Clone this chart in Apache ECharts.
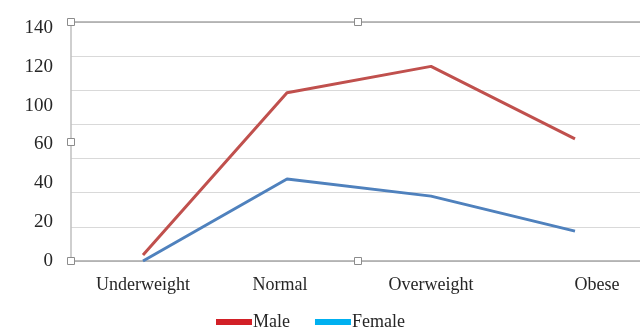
<!DOCTYPE html>
<html>
<head>
<meta charset="utf-8">
<script src="https://cdn.jsdelivr.net/npm/echarts@6/dist/echarts.min.js"></script>
<style>
  html, body { margin: 0; padding: 0; background: #fff; overflow: hidden; }
  /* the plot area runs a few pixels past the right edge of the picture */
  #chart { width: 647px; height: 327px; }
</style>
</head>
<body>
<div id="chart"></div>
<script>
const categories = ['Underweight', 'Normal', 'Overweight', 'Obese']
const maleValues = [3.5, 98.5, 114, 71.5]
const femaleValues = [0, 48, 38, 17.5]
// tick labels as printed on the source (the 80 label is missing there)
const yTickLabels = ['0', '20', '40', '60', '100', '120', '140']

const font = 'Liberation Serif, Times New Roman, serif'
const chart = echarts.init(document.getElementById('chart'))

const catRich = {
  a: { fontFamily: font, fontSize: 18, color: '#262626' },
  n: { fontFamily: font, fontSize: 18, color: '#262626', padding: [0, 14, 0, 0] },
  o: { fontFamily: font, fontSize: 18, color: '#262626', padding: [0, 0, 0, 44] },
}

const handle = (x, y) => ({
  type: 'rect',
  shape: { x: x - 3.5, y: y - 3.5, width: 7, height: 7 },
  style: { fill: '#fff', stroke: '#8c8c8c', lineWidth: 1 },
  z: 100,
})

chart.setOption({
  animation: false,
  grid: [
    { left: 71, top: 22, bottom: 66, right: 0 },
    { left: 71, top: 28, height: 233, right: 0 },
  ],
  xAxis: [
    {
      type: 'category',
      gridIndex: 0,
      data: categories,
      boundaryGap: true,
      axisLine: { lineStyle: { color: '#a6a6a6', width: 1.5 } },
      axisTick: { show: false },
      axisLabel: {
        margin: 15,
        interval: 0,
        formatter: (v, i) => (i === 1 ? '{n|' : i === 3 ? '{o|' : '{a|') + v + '}',
        rich: catRich,
      },
    },
    {
      type: 'category',
      gridIndex: 0,
      position: 'top',
      data: categories,
      axisLine: { lineStyle: { color: '#a6a6a6', width: 1.5 } },
      axisTick: { show: false },
      axisLabel: { show: false },
    },
    { type: 'category', gridIndex: 1, show: false, data: categories },
  ],
  yAxis: [
    {
      type: 'value',
      gridIndex: 0,
      min: 0,
      max: 140,
      interval: 20,
      axisLine: { show: true, lineStyle: { color: '#bfbfbf', width: 1.5 } },
      axisTick: { show: false },
      axisLabel: { show: false },
      splitLine: { lineStyle: { color: '#d9d9d9', width: 1 } },
    },
    {
      type: 'category',
      gridIndex: 1,
      data: yTickLabels,
      boundaryGap: false,
      axisLine: { show: false },
      axisTick: { show: false },
      splitLine: { show: false },
      axisLabel: {
        margin: 18,
        fontFamily: font,
        fontSize: 19,
        color: '#262626',
        interval: 0,
      },
    },
  ],
  legend: {
    left: 211,
    top: 308,
    itemWidth: 36,
    itemHeight: 6,
    itemGap: 25,
    textStyle: { fontFamily: font, fontSize: 18, color: '#262626', padding: [0, 0, 0, -4] },
    data: [
      { name: 'Male', icon: 'rect', itemStyle: { color: '#d22027' } },
      { name: 'Female', icon: 'rect', itemStyle: { color: '#00b0f0' } },
    ],
  },
  series: [
    {
      name: 'Male',
      type: 'line',
      xAxisIndex: 0,
      yAxisIndex: 0,
      data: maleValues,
      symbol: 'none',
      color: '#c0504d',
      lineStyle: { width: 3, color: '#c0504d' },
      z: 3,
    },
    {
      name: 'Female',
      type: 'line',
      xAxisIndex: 0,
      yAxisIndex: 0,
      data: femaleValues,
      symbol: 'none',
      color: '#4f81bd',
      lineStyle: { width: 3, color: '#4f81bd' },
      z: 4,
    },
  ],
  graphic: [handle(71, 22), handle(358, 22), handle(71, 142), handle(71, 261), handle(358, 261)],
})
</script>
</body>
</html>
